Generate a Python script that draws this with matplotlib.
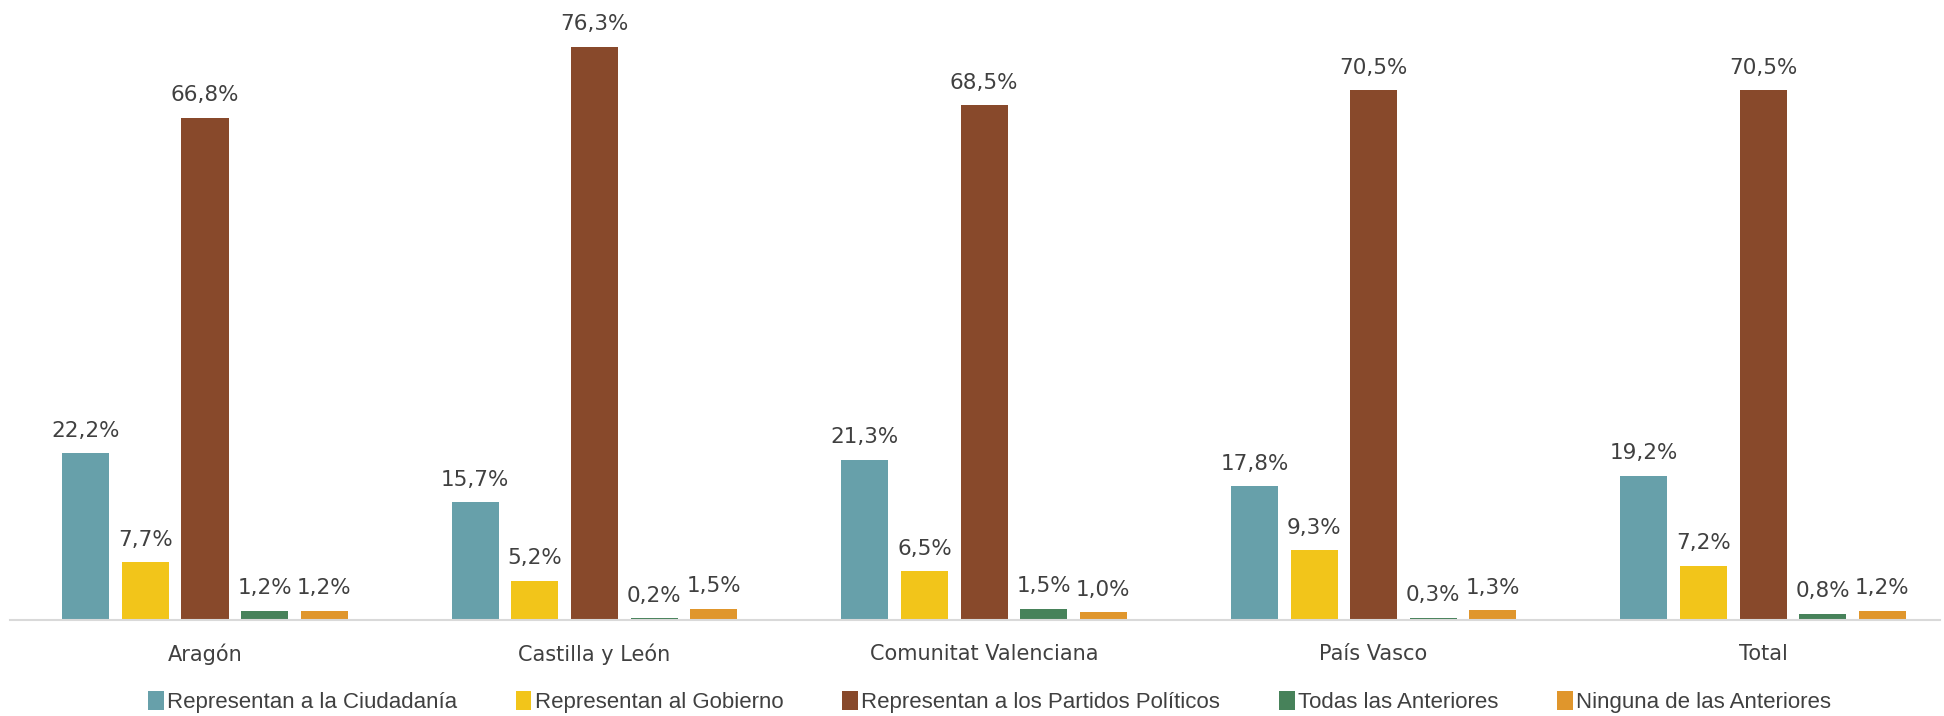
import numpy as np
import matplotlib
matplotlib.use("Agg")
import matplotlib.pyplot as plt
from matplotlib.patches import Patch

# Data
regions = ['Aragón', 'Castilla y León', 'Comunitat Valenciana', 'País Vasco', 'Total']
series_names = ['Representan a la Ciudadanía', 'Representan al Gobierno',
                'Representan a los Partidos Políticos', 'Todas las Anteriores',
                'Ninguna de las Anteriores']
ciudadania = [22.2, 15.7, 21.3, 17.8, 19.2]
gobierno = [7.7, 5.2, 6.5, 9.3, 7.2]
partidos = [66.8, 76.3, 68.5, 70.5, 70.5]
todas = [1.2, 0.2, 1.5, 0.3, 0.8]
ninguna = [1.2, 1.5, 1.0, 1.3, 1.2]

series = [ciudadania, gobierno, partidos, todas, ninguna]
colors = ['#67A0AA', '#F2C51A', '#88492B', '#47825A', '#E0962C']
text_color = '#404040'

fig = plt.figure(figsize=(19.44, 7.16), dpi=100)
ax = fig.add_axes([10 / 1944, 1 - 620 / 716, 1930 / 1944, 620 / 716])

x = np.arange(len(regions))
step = 0.153
width = 0.1207
for i, (vals, col) in enumerate(zip(series, colors)):
    pos = x + (i - 2) * step
    bars = ax.bar(pos, vals, width=width, color=col)
    for b, v in zip(bars, vals):
        ax.annotate(f'{v:.1f}%'.replace('.', ','), (b.get_x() + b.get_width() / 2, v),
                    xytext=(0, 9), textcoords='offset points', ha='center', va='bottom',
                    fontsize=15.5, color=text_color)

ax.set_xlim(-0.5006, 4.454)
ax.set_ylim(0, 82.5)
ax.set_xticks(x)
ax.set_xticklabels(regions, fontsize=15, color=text_color)
ax.tick_params(axis='x', length=0, pad=17)
ax.set_yticks([])
for s in ['top', 'right', 'left']:
    ax.spines[s].set_visible(False)
ax.spines['bottom'].set_color('#D9D9D9')
ax.spines['bottom'].set_linewidth(1.5)

handles = [Patch(facecolor=c) for c in colors]
leg = fig.legend(handles, series_names, loc='center', bbox_to_anchor=(0.509, 1 - 702 / 716),
                 ncol=5, frameon=False, handlelength=0.7, handleheight=0.9, handletextpad=0.15,
                 columnspacing=2.65, prop={'family': 'Liberation Sans', 'size': 16})
for t in leg.get_texts():
    t.set_color(text_color)

fig.savefig('out.png', dpi=100)
